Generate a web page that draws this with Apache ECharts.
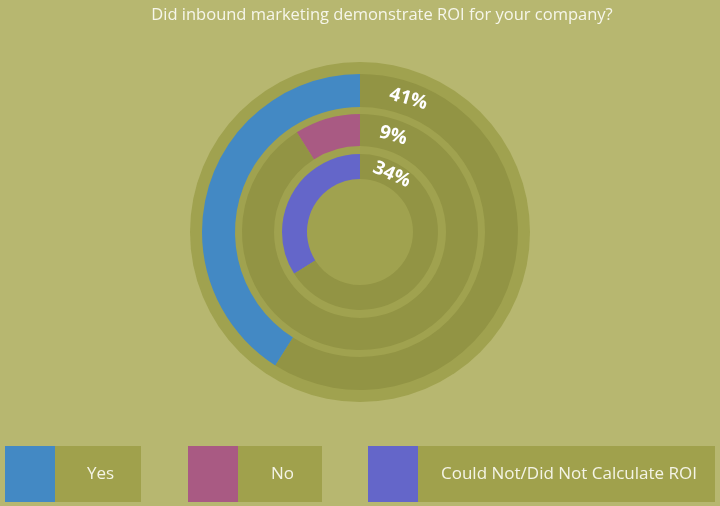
<!DOCTYPE html>
<html>
<head>
<meta charset="utf-8">
<script src="https://cdn.jsdelivr.net/npm/echarts@6/dist/echarts.min.js"></script>
<style>
  html, body { margin: 0; padding: 0; background: #b7b770; }
  #chart { width: 720px; height: 506px; }
</style>
</head>
<body>
<div id="chart"></div>
<script>
// survey answers, outer ring first
const categories = ['Yes', 'No', 'Could Not/Did Not Calculate ROI'];
const percents = [41, 9, 34];
const colors = ['#4389c4', '#a95a83', '#6466c9'];

const center = [360, 232];
const rings = [[125, 158], [86, 118], [53, 78]];
const labelAngles = [20, 19, 29];
const labelTilt = [-16, -16, -24];
const legendLeft = [5, 188, 368];
const legendWidth = [136, 134, 347];

const trackColor = '#929444';
const discColor = '#a0a24f';
const boxColor = '#a0a14c';

const chart = echarts.init(document.getElementById('chart'));

const series = [{
    type: 'pie',
    silent: true,
    center: center,
    radius: [0, 170],
    label: { show: false },
    data: [{ value: 1, itemStyle: { color: discColor } }]
}];

categories.forEach((name, i) => {
    series.push({
        type: 'pie',
        center: center,
        radius: rings[i],
        startAngle: 90,
        clockwise: false,
        label: { show: false },
        emphasis: { disabled: true },
        data: [
            { name: name, value: percents[i], itemStyle: { color: colors[i] } },
            { name: 'rest' + i, value: 100 - percents[i], itemStyle: { color: trackColor } }
        ]
    });
});

const legends = categories.map((name, i) => ({
    left: legendLeft[i],
    top: 446,
    padding: 0,
    backgroundColor: boxColor,
    itemWidth: 50,
    itemHeight: 56,
    icon: 'rect',
    selectedMode: false,
    data: [name],
    formatter: '{t|{name}}',
    textStyle: {
        rich: {
            t: {
                width: legendWidth[i] - 55,
                height: 56,
                lineHeight: 56,
                align: 'center',
                backgroundColor: boxColor,
                color: '#f4f4e6',
                fontSize: 17,
                fontFamily: 'Open Sans'
            }
        }
    }
}));

// percent labels sit just clockwise of 12 o'clock on each ring
const labels = categories.map((name, i) => {
    const r = (rings[i][0] + rings[i][1]) / 2;
    const a = labelAngles[i] * Math.PI / 180;
    return {
        type: 'text',
        x: center[0] + r * Math.sin(a),
        y: center[1] - r * Math.cos(a),
        rotation: labelTilt[i] * Math.PI / 180,
        z: 100,
        style: {
            text: percents[i] + '%',
            fill: '#ffffff',
            fontSize: 19,
            fontWeight: 'bold',
            fontFamily: 'Open Sans',
            align: 'center',
            verticalAlign: 'middle'
        }
    };
});

const option = {
    backgroundColor: '#b7b770',
    animation: false,
    title: {
        text: 'Did inbound marketing demonstrate ROI for your company?',
        left: 382,
        textAlign: 'center',
        top: 7,
        padding: 0,
        textStyle: { color: '#f6f6ea', fontSize: 16.5, fontWeight: 500, fontFamily: 'Open Sans' }
    },
    legend: legends,
    graphic: { elements: labels },
    series: series
};
option && chart.setOption(option);
</script>
</body>
</html>
